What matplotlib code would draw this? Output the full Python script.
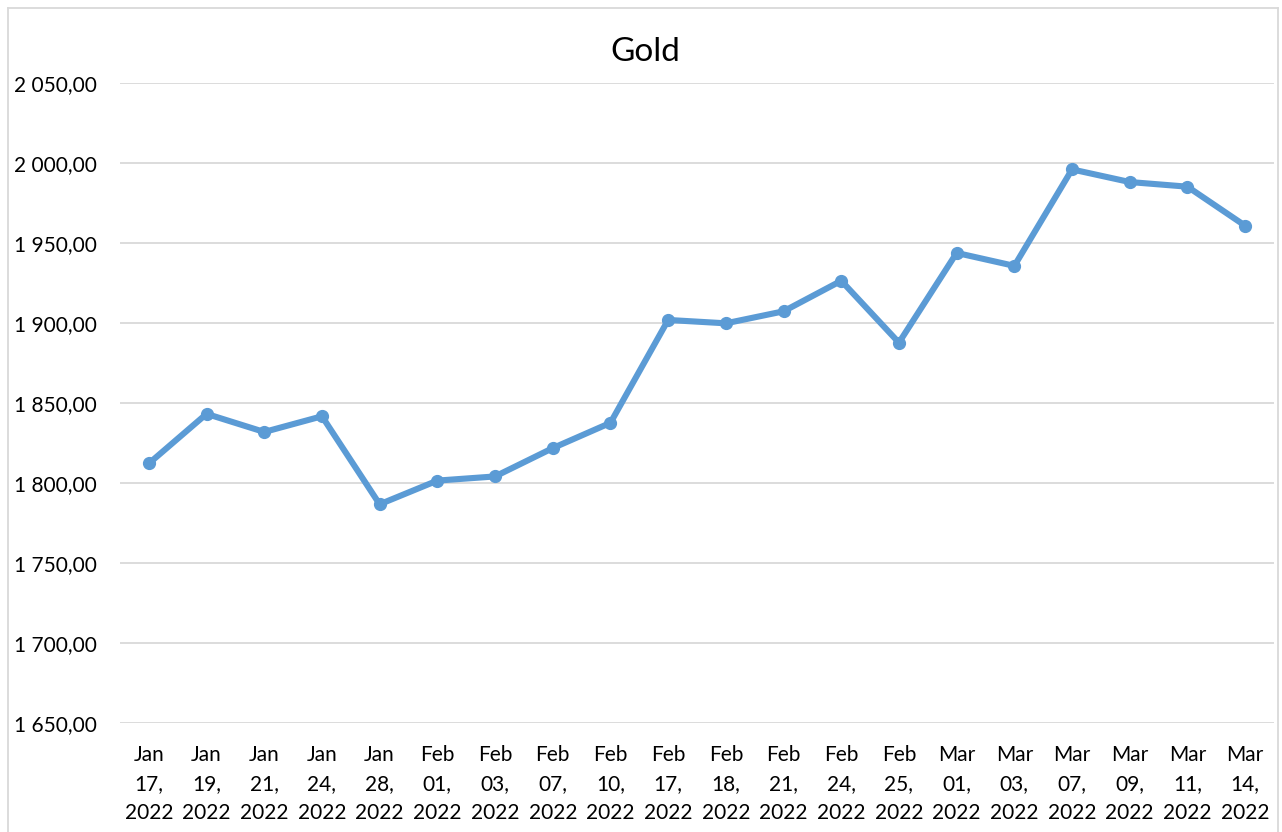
import matplotlib
matplotlib.use("Agg")
import matplotlib.pyplot as plt
from matplotlib.ticker import FuncFormatter, MultipleLocator
from matplotlib.lines import Line2D

dates = ["Jan 17", "Jan 19", "Jan 21", "Jan 24", "Jan 28",
         "Feb 01", "Feb 03", "Feb 07", "Feb 10", "Feb 17",
         "Feb 18", "Feb 21", "Feb 24", "Feb 25", "Mar 01",
         "Mar 03", "Mar 07", "Mar 09", "Mar 11", "Mar 14"]
year = "2022"
gold = [1812.2, 1843.2, 1831.9, 1841.7, 1786.7,
        1801.5, 1804.1, 1821.8, 1837.6, 1901.9,
        1899.8, 1907.3, 1926.4, 1887.7, 1943.8,
        1935.7, 1996.0, 1988.1, 1985.2, 1960.8]

labels = [d.replace(" ", "\n") + ",\n" + year for d in dates]


def fmt(v, pos):
    s = f"{v:,.2f}"
    return s.replace(",", " ").replace(".", ",")


plt.rcParams['font.family'] = ['Lato', 'DejaVu Sans']

fig = plt.figure(figsize=(12.82, 8.32), dpi=100)
ax = fig.add_axes([120 / 1282, 1 - 723 / 832, 1154 / 1282, 640 / 832])

x = range(len(gold))
ax.plot(x, gold, color="#5B9BD5", linewidth=4.4, marker="o", markersize=8.5,
        solid_capstyle="round", solid_joinstyle="round")

ax.set_xlim(-0.5, len(gold) - 0.5)
ax.set_ylim(1650, 2050)
ax.yaxis.set_major_locator(MultipleLocator(50))
ax.yaxis.set_major_formatter(FuncFormatter(fmt))
ax.set_xticks(list(x))
ax.set_xticklabels(labels, linespacing=1.55)
ax.grid(axis="y", color="#D9D9D9", linewidth=1.3)
ax.set_axisbelow(True)
for s in ax.spines.values():
    s.set_visible(False)
ax.tick_params(axis="both", length=0, labelsize=15, colors="black")
ax.tick_params(axis="x", pad=16)
ax.tick_params(axis="y", pad=17)

fig.text(645 / 1282, 1 - 52 / 832, "Gold", ha="center", va="center", fontsize=24)

# outer chart border
for xs, ys in [([8, 8], [8, 832]), ([8, 1278], [8, 8]), ([1278, 1278], [8, 832])]:
    fig.add_artist(Line2D([v / 1282 for v in xs], [1 - v / 832 for v in ys],
                          color="#D9D9D9", linewidth=1.3))

fig.savefig("out.png", dpi=100)
